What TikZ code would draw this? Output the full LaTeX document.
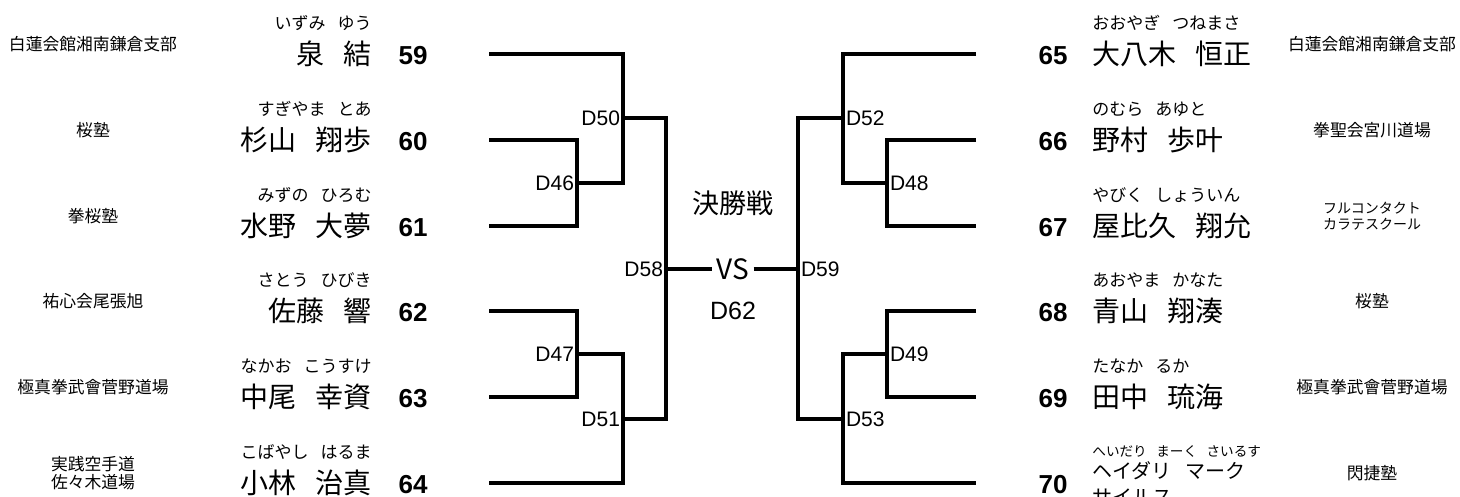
\documentclass[tikz,border=0pt]{standalone}
\usepackage{fontspec}
\setmainfont{Noto Sans CJK JP}
\newfontfamily\latin{Liberation Sans}
\usetikzlibrary{positioning}
\newcommand{\gp}{\hspace{0.7em}}
\tikzset{
  bk/.style={line width=1.6pt},
  pname/.style={inner sep=0pt, font=\fontsize{14}{15}\selectfont},
  kana/.style={inner sep=0pt, font=\fontsize{8.5}{9.5}\selectfont},
  club/.style={inner sep=0pt, align=center, font=\fontsize{8.4}{9.2}\selectfont},
  seed/.style={inner sep=0pt, font=\latin\bfseries\fontsize{13}{14}\selectfont},
  mlabel/.style={inner xsep=1.3pt, inner ysep=0pt, font=\latin\fontsize{10.5}{12}\selectfont},
}
% one player row: [club style]{number}{row y}{kana}{name}{club}
\newcommand{\lplayer}[6][]{%
  \coordinate (p#2) at (489,#3);
  \node[seed] (n#2) at (413,#3+2) {#2};
  \node[pname, anchor=east] (nm#2) at (372,#3) {#5};
  \node[kana, anchor=east] (k#2) at (372,#3-31) {#4};
  \node[club,#1] (c#2) at (93,#3-10) {#6};
}
\newcommand{\rplayer}[6][]{%
  \coordinate (p#2) at (976,#3);
  \node[seed] (n#2) at (1053,#3+2) {#2};
  \node[pname, anchor=west] (nm#2) at (1092,#3) {#5};
  \node[kana, anchor=west] (k#2) at (1092,#3-31) {#4};
  \node[club,#1] (c#2) at (1372,#3-10) {#6};
}
\begin{document}
\begin{tikzpicture}[x=0.5pt, y=-0.5pt]
\useasboundingbox (0,0) rectangle (1460,497);
% left block
\lplayer{59}{54}{いずみ\gp ゆう}{泉\gp 結}{白蓮会館湘南鎌倉支部}
\lplayer{60}{140}{すぎやま\gp とあ}{杉山\gp 翔歩}{桜塾}
\lplayer{61}{226}{みずの\gp ひろむ}{水野\gp 大夢}{拳桜塾}
\lplayer{62}{311}{さとう\gp ひびき}{佐藤\gp 響}{祐心会尾張旭}
\lplayer{63}{397}{なかお\gp こうすけ}{中尾\gp 幸資}{極真拳武會菅野道場}
\lplayer{64}{483}{こばやし\gp はるま}{小林\gp 治真}{実践空手道\\佐々木道場}
% right block
\rplayer{65}{54}{おおやぎ\gp つねまさ}{大八木\gp 恒正}{白蓮会館湘南鎌倉支部}
\rplayer{66}{140}{のむら\gp あゆと}{野村\gp 歩叶}{拳聖会宮川道場}
\rplayer[font=\fontsize{7}{8.3}\selectfont]{67}{226}{やびく\gp しょういん}{屋比久\gp 翔允}{フルコンタクト\\カラテスクール}
\rplayer{68}{311}{あおやま\gp かなた}{青山\gp 翔湊}{桜塾}
\rplayer{69}{397}{たなか\gp るか}{田中\gp 琉海}{極真拳武會菅野道場}
\coordinate (p70) at (976,483);
\node[seed] (n70) at (1053,485) {70};
\node[kana, anchor=west, font=\fontsize{6.8}{8}\selectfont] (k70) at (1092,451) {へいだり\gp まーく\gp さいるす};
\node[pname, anchor=north west, align=left, font=\fontsize{10}{13}\selectfont] (nm70) at (1092,461) {ヘイダリ\gp マーク\\サイルス};
\node[club] (c70) at (1372,473) {閃捷塾};

% match points
\coordinate (m46) at (577,183);
\coordinate (m47) at (577,354);
\coordinate (m50) at (623,118);
\coordinate (m51) at (623,419);
\coordinate (m58) at (666,269);
\coordinate (m59) at (798,269);
\coordinate (m52) at (843,118);
\coordinate (m53) at (843,419);
\coordinate (m48) at (887,183);
\coordinate (m49) at (887,354);
\node[mlabel, anchor=east] (d46) at (m46) {D46};
\node[mlabel, anchor=east] (d47) at (m47) {D47};
\node[mlabel, anchor=east] (d50) at (m50) {D50};
\node[mlabel, anchor=east] (d51) at (m51) {D51};
\node[mlabel, anchor=east] (d58) at (m58) {D58};
\node[mlabel, anchor=west] (d59) at (m59) {D59};
\node[mlabel, anchor=west] (d52) at (m52) {D52};
\node[mlabel, anchor=west] (d53) at (m53) {D53};
\node[mlabel, anchor=west] (d48) at (m48) {D48};
\node[mlabel, anchor=west] (d49) at (m49) {D49};

% final
\node[inner sep=0pt, font=\fontsize{13.5}{15}\selectfont] (fin) at (733,203) {決勝戦};
\node[inner xsep=2pt, inner ysep=0pt, font=\fontsize{14}{15}\selectfont] (vs) at (733,269) {VS};
\node[inner sep=0pt, font=\latin\fontsize{12.5}{14}\selectfont] (d62) at (733,311) {D62};

% bracket lines
\draw[bk] (p59) -| (m50) |- (m46);
\draw[bk] (p60) -| (m46) |- (p61);
\draw[bk] (p62) -| (m47) |- (p63);
\draw[bk] (m47) -| (m51) |- (p64);
\draw[bk] (m50) -| (m58) |- (m51);
\draw[bk] (p65) -| (m52) |- (m48);
\draw[bk] (p66) -| (m48) |- (p67);
\draw[bk] (p68) -| (m49) |- (p69);
\draw[bk] (m49) -| (m53) |- (p70);
\draw[bk] (m52) -| (m59) |- (m53);
\draw[bk] (m58) -- (vs);
\draw[bk] (vs) -- (m59);
\end{tikzpicture}
\end{document}
